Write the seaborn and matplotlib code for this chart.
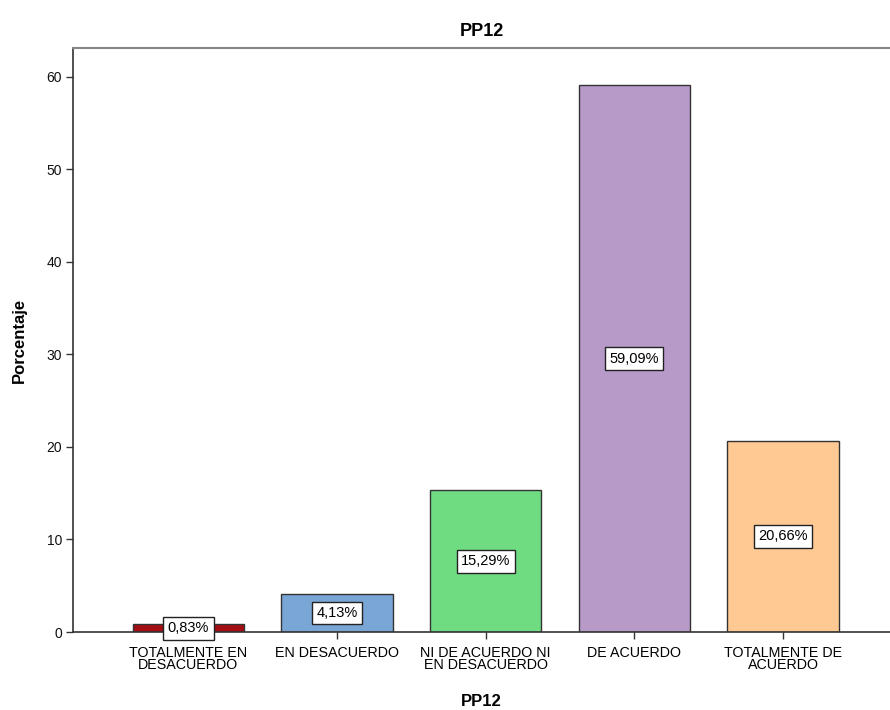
import matplotlib
matplotlib.use("Agg")
import matplotlib.pyplot as plt
import seaborn as sns
import pandas as pd

categories = ["TOTALMENTE EN\nDESACUERDO", "EN DESACUERDO", "NI DE ACUERDO NI\nEN DESACUERDO",
              "DE ACUERDO", "TOTALMENTE DE\nACUERDO"]
values = [0.83, 4.13, 15.29, 59.09, 20.66]
colors = ["#A40E12", "#7AA6D6", "#6FDC82", "#B89AC9", "#FFC994"]
yticks = [0, 10, 20, 30, 40, 50, 60]

sns.set_style("white")
plt.rcParams['font.family'] = ['Liberation Sans', 'DejaVu Sans']

df = pd.DataFrame({"cat": categories, "val": values})

fig = plt.figure(figsize=(8.9, 7.1), dpi=100)
ax = fig.add_axes([73/890, 1-632/710, 1-73/890, (632-48)/710])

sns.barplot(data=df, x="cat", y="val", hue="cat", palette=colors, dodge=False,
            legend=False, width=0.75, edgecolor="#333333", linewidth=1.0, ax=ax, saturation=1)

ax.set_xlim(-0.777, 4.72)
ax.set_ylim(0, 63.1)
ax.set_yticks(yticks)
ax.set_yticklabels([str(t) for t in yticks], fontsize=10, color="#111111")
ax.tick_params(axis="x", labelsize=10.3, length=5, width=1, color="#333333", direction="out",
               pad=5, bottom=True, labelcolor="#000000")
ax.tick_params(axis="y", length=5, width=1, color="#333333", direction="out", left=True, pad=3)
for lbl in ax.get_xticklabels():
    lbl.set_linespacing(0.8)

for s in ["left", "bottom"]:
    ax.spines[s].set_color("#333333")
    ax.spines[s].set_linewidth(1.2)
ax.spines["top"].set_color("#888888")
ax.spines["top"].set_linewidth(1.5)
ax.spines["right"].set_visible(False)

for i, v in enumerate(values):
    ax.text(i, v / 2, f"{v:.2f}".replace(".", ",") + "%", ha="center", va="center",
            fontsize=10.5, color="#000000",
            bbox=dict(boxstyle="square,pad=0.3", fc="white", ec="#222222", lw=1))

ax.set_title("PP12", fontsize=13, fontweight="bold", pad=9, color="#000000")
ax.set_xlabel("PP12", fontsize=12, fontweight="bold", labelpad=16, color="#000000")
ax.set_ylabel("Porcentaje", fontsize=12, fontweight="bold", labelpad=14, color="#000000")

fig.savefig("out.png", dpi=100)
